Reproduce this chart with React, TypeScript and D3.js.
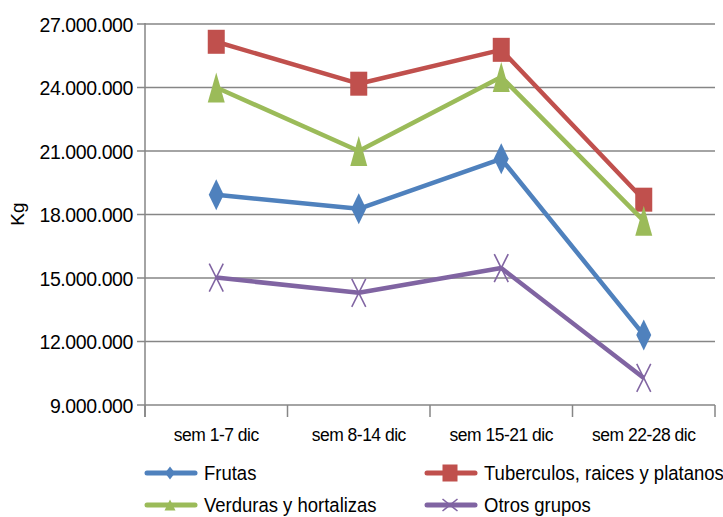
import React from "react"
import * as d3 from "d3"

const categories = ["sem 1-7 dic", "sem 8-14 dic", "sem 15-21 dic", "sem 22-28 dic"]
const frutas = [18930000, 18270000, 20630000, 12310000]
const tuberculos = [26160000, 24180000, 25780000, 18700000]
const verduras = [24000000, 21000000, 24500000, 17700000]
const otros = [15020000, 14300000, 15470000, 10280000]
const yTicks = [9000000, 12000000, 15000000, 18000000, 21000000, 24000000, 27000000]

const seriesList = [
  { name: "Frutas", values: frutas, color: "#4f81bd", marker: "diamond" },
  { name: "Tuberculos, raices y platanos", values: tuberculos, color: "#c0504d", marker: "square" },
  { name: "Verduras y hortalizas", values: verduras, color: "#9bbb59", marker: "triangle" },
  { name: "Otros grupos", values: otros, color: "#8064a2", marker: "x" },
]

const W = 723
const H = 517
const m = { left: 145, right: 715, top: 24, bottom: 405 }
const font = "'Liberation Sans', Arial, sans-serif"

const fmt = (v: number) => d3.format(",")(v).replace(/,/g, ".")

// w/h are half sizes; plot markers are taller than wide, legend ones are not
function Marker({ type, x, y, color, w, h }: { type: string; x: number; y: number; color: string; w: number; h: number }) {
  if (type === "diamond") {
    return <path d={`M${x},${y - h}L${x + w},${y}L${x},${y + h}L${x - w},${y}Z`} fill={color} />
  }
  if (type === "square") {
    return <rect x={x - w} y={y - h} width={2 * w} height={2 * h} fill={color} />
  }
  if (type === "triangle") {
    return <path d={`M${x},${y - h}L${x + w},${y + h}L${x - w},${y + h}Z`} fill={color} />
  }
  return (
    <g stroke={color} strokeWidth={1.6}>
      <line x1={x - w} y1={y - h} x2={x + w} y2={y + h} />
      <line x1={x - w} y1={y + h} x2={x + w} y2={y - h} />
    </g>
  )
}

const plotSize: Record<string, [number, number]> = {
  diamond: [7.5, 15.5],
  square: [8.5, 12],
  triangle: [8.5, 15],
  x: [7, 14],
}
const legendSize: Record<string, [number, number]> = {
  diamond: [5, 6.5],
  square: [7.5, 8.5],
  triangle: [5.5, 5.5],
  x: [7.5, 6],
}

export default function App() {
  const x = d3.scaleBand<string>().domain(categories).range([m.left, m.right])
  const y = d3.scaleLinear().domain([9000000, 27000000]).range([m.bottom, m.top])
  const cx = (c: string) => (x(c) ?? 0) + x.bandwidth() / 2
  const line = d3
    .line<number>()
    .x((_, i) => cx(categories[i]))
    .y((d) => y(d))

  const legendPos = [
    { lx: 145, ly: 473 },
    { lx: 425, ly: 473 },
    { lx: 145, ly: 505 },
    { lx: 425, ly: 505 },
  ]

  return (
    <div style={{ position: "fixed", left: 0, top: 0 }}>
      <svg width={W} height={H} style={{ display: "block", background: "#fff" }} fontFamily={font}>
        {/* gridlines */}
        {yTicks.map((t) => (
          <g key={t}>
            <line x1={m.left - 8} x2={m.right} y1={y(t)} y2={y(t)} stroke="#868686" strokeWidth={1.5} />
            <text
              transform={`translate(133,${y(t)}) scale(1,1.08)`}
              dy="0.36em"
              textAnchor="end"
              fontSize={19.5}
              letterSpacing={-0.4}
              fill="#000"
            >
              {fmt(t)}
            </text>
          </g>
        ))}
        {/* axes */}
        <line x1={m.left} x2={m.left} y1={m.top - 1} y2={m.bottom + 12} stroke="#868686" strokeWidth={1.5} />
        {[...categories.map((c) => x(c) ?? 0), m.right].map((v, i) => (
          <line key={i} x1={v} x2={v} y1={m.bottom} y2={m.bottom + 12} stroke="#868686" strokeWidth={1.5} />
        ))}
        {categories.map((c) => (
          <text
            key={c}
            transform={`translate(${cx(c)},434) scale(1,1.08)`}
            dy="0.36em"
            textAnchor="middle"
            fontSize={17.5}
            letterSpacing={-0.5}
            fill="#000"
          >
            {c}
          </text>
        ))}
        <text transform={`translate(17,214) rotate(-90)`} textAnchor="middle" dy="0.36em" fontSize={19} fill="#000">
          Kg
        </text>
        {/* series */}
        {seriesList.map((s) => (
          <g key={s.name}>
            <path d={line(s.values) ?? ""} fill="none" stroke={s.color} strokeWidth={4.5} strokeLinejoin="round" />
            {s.values.map((v, i) => (
              <Marker
                key={i}
                type={s.marker}
                x={cx(categories[i])}
                y={y(v)}
                color={s.color}
                w={plotSize[s.marker][0]}
                h={plotSize[s.marker][1]}
              />
            ))}
          </g>
        ))}
        {/* legend */}
        {seriesList.map((s, i) => {
          const { lx, ly } = legendPos[i]
          return (
            <g key={s.name}>
              <line x1={lx + 2} x2={lx + 50} y1={ly} y2={ly} stroke={s.color} strokeWidth={5} strokeLinecap="round" />
              <Marker
                type={s.marker}
                x={lx + 25}
                y={ly}
                color={s.color}
                w={legendSize[s.marker][0]}
                h={legendSize[s.marker][1]}
              />
              <text transform={`translate(${lx + 59},${ly}) scale(1,1.05)`} dy="0.36em" fontSize={18.5} fill="#000">
                {s.name}
              </text>
            </g>
          )
        })}
      </svg>
    </div>
  )
}
